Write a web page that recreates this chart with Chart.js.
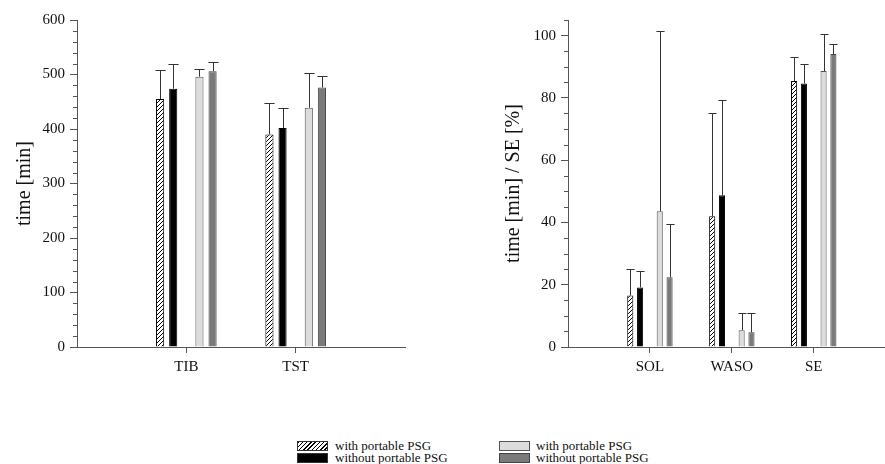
<!DOCTYPE html>
<html>
<head>
<meta charset="utf-8">
<script src="https://cdn.jsdelivr.net/npm/chart.js@4.4.0/dist/chart.umd.min.js"></script>
<style>
body { margin: 0; background: #fff; width: 885px; height: 464px; overflow: hidden; position: relative; font-family: 'Liberation Serif', serif; }
#leftWrap { position: absolute; left: 0; top: 0; width: 420px; height: 400px; }
#rightWrap { position: absolute; left: 470px; top: 0; width: 415px; height: 400px; }
.sw { position: absolute; width: 29px; height: 8px; border: 1px solid #333; box-sizing: content-box; }
.lt { position: absolute; font-size: 13px; line-height: 13px; color: #111; white-space: nowrap; }
.hatch { background: repeating-linear-gradient(135deg, #000 0 1px, #fff 1px 3px); }
</style>
</head>
<body>
<div id="leftWrap"><canvas id="leftChart"></canvas></div>
<div id="rightWrap"><canvas id="rightChart"></canvas></div>

<div class="sw hatch" style="left:297px;top:441px"></div>
<div class="lt" style="left:335px;top:439px">with portable PSG</div>
<div class="sw" style="left:297px;top:453px;background:#000"></div>
<div class="lt" style="left:335px;top:451px">without portable PSG</div>
<div class="sw" style="left:499px;top:441px;background:#dcdcdc;border-color:#555"></div>
<div class="lt" style="left:536px;top:439px">with portable PSG</div>
<div class="sw" style="left:499px;top:453px;background:#7a7a7a;border-color:#444"></div>
<div class="lt" style="left:536px;top:451px">without portable PSG</div>

<script>
// left panel: time in bed / total sleep time
const leftCats = ['TIB', 'TST'];
const leftWith1 = [455, 390];
const leftWithout1 = [474, 402];
const leftWith2 = [496, 439];
const leftWithout2 = [506, 476];
const leftErrWith1 = [53, 57];
const leftErrWithout1 = [46, 37];
const leftErrWith2 = [14, 64];
const leftErrWithout2 = [17, 22];

// right panel: SOL / WASO / SE
const rightCats = ['SOL', 'WASO', 'SE'];
const rightWith1 = [16.5, 42, 85.4];
const rightWithout1 = [19.1, 48.7, 84.6];
const rightWith2 = [43.6, 5.4, 88.6];
const rightWithout2 = [22.4, 4.7, 94.1];
const rightErrWith1 = [8.4, 33, 7.6];
const rightErrWithout1 = [5.3, 30.6, 6.3];
const rightErrWith2 = [57.8, 5.6, 12];
const rightErrWithout2 = [17.1, 6.3, 3.1];

const legendLabels = ['with portable PSG', 'without portable PSG'];

Chart.defaults.font.family = "'Liberation Serif', serif";
Chart.defaults.color = '#111';

function hatchPattern() {
    const c = document.createElement('canvas');
    c.width = 4;
    c.height = 4;
    const g = c.getContext('2d');
    g.fillStyle = '#fff';
    g.fillRect(0, 0, 4, 4);
    g.strokeStyle = '#000';
    g.lineWidth = 1;
    g.beginPath();
    g.moveTo(0, 4); g.lineTo(4, 0);
    g.moveTo(-1, 1); g.lineTo(1, -1);
    g.moveTo(3, 5); g.lineTo(5, 3);
    g.stroke();
    return g.createPattern(c, 'repeat');
}

const errorBars = {
    id: 'errorBars',
    afterDatasetsDraw(chart) {
        const ctx = chart.ctx;
        const yScale = chart.scales.y;
        ctx.save();
        ctx.strokeStyle = '#333';
        ctx.lineWidth = 1;
        chart.data.datasets.forEach((ds, i) => {
            if (!ds.errors) return;
            const meta = chart.getDatasetMeta(i);
            meta.data.forEach((bar, j) => {
                const x = Math.round(bar.x) + 0.5;
                const top = Math.round(yScale.getPixelForValue(ds.data[j].y + ds.errors[j])) + 0.5;
                const half = bar.width / 2 + 1;
                ctx.beginPath();
                ctx.moveTo(x, bar.y);
                ctx.lineTo(x, top);
                ctx.moveTo(x - half, top);
                ctx.lineTo(x + half, top);
                ctx.stroke();
            });
        });
        ctx.restore();
    }
};

const minorTicks = {
    id: 'minorTicks',
    afterDraw(chart, args, opts) {
        const y = chart.scales.y;
        const ctx = chart.ctx;
        ctx.save();
        ctx.strokeStyle = '#555';
        ctx.lineWidth = 1;
        for (let v = y.min; v <= y.max + 1e-9; v += opts.step) {
            if (Math.abs(v % opts.major) < 1e-9) continue;
            const py = Math.round(y.getPixelForValue(v)) + 0.5;
            ctx.beginPath();
            ctx.moveTo(y.right - 4, py);
            ctx.lineTo(y.right, py);
            ctx.stroke();
        }
        ctx.restore();
    }
};

function points(cats, vals) {
    return cats.map((c, i) => ({ x: i, y: vals[i] }));
}

function makeChart(el, cats, series, errors, yCfg) {
    const hatch = hatchPattern();
    return new Chart(el, {
        type: 'bar',
        data: {
            datasets: [
                {
                    label: legendLabels[0],
                    data: points(cats, series[0]),
                    errors: errors[0],
                    backgroundColor: hatch,
                    borderColor: '#000',
                    borderWidth: 1
                },
                {
                    label: legendLabels[1],
                    data: points(cats, series[1]),
                    errors: errors[1],
                    backgroundColor: '#000',
                    borderColor: '#000',
                    borderWidth: 1
                },
                {
                    label: '',
                    data: []
                },
                {
                    label: legendLabels[0],
                    data: points(cats, series[2]),
                    errors: errors[2],
                    backgroundColor: '#dcdcdc',
                    borderColor: '#555',
                    borderWidth: 1
                },
                {
                    label: legendLabels[1],
                    data: points(cats, series[3]),
                    errors: errors[3],
                    backgroundColor: '#7a7a7a',
                    borderColor: '#444',
                    borderWidth: 1
                }
            ]
        },
        options: {
            responsive: true,
            maintainAspectRatio: false,
            animation: false,
            categoryPercentage: 0.6,
            barPercentage: 0.62,
            layout: { padding: { top: 20, right: yCfg.padRight, bottom: 0, left: 0 } },
            plugins: {
                legend: { display: false },
                tooltip: { enabled: false },
                minorTicks: { step: yCfg.minor, major: yCfg.step }
            },
            scales: {
                x: {
                    type: 'linear',
                    min: -1,
                    max: yCfg.xMax,
                    offset: false,
                    afterBuildTicks: (scale) => {
                        scale.ticks = cats.map((c, i) => ({ value: i }));
                    },
                    afterFit: (scale) => { scale.height = 53; },
                    grid: { drawOnChartArea: false, offset: false, tickLength: 6, color: '#555' },
                    border: { color: '#555' },
                    ticks: {
                        callback: (v) => cats[v],
                        font: { size: 15 },
                        color: '#111',
                        padding: 5,
                        maxRotation: 0
                    }
                },
                y: {
                    min: 0,
                    max: yCfg.max,
                    afterFit: (scale) => { scale.width = yCfg.width; },
                    grid: { drawOnChartArea: false, tickLength: 7, color: '#555' },
                    border: { color: '#555' },
                    ticks: {
                        stepSize: yCfg.step,
                        includeBounds: false,
                        font: { size: 15 },
                        color: '#111',
                        padding: 5
                    },
                    title: {
                        display: true,
                        text: yCfg.title,
                        font: { size: 20 },
                        color: '#111',
                        padding: { top: yCfg.titlePad, bottom: 0 }
                    }
                }
            }
        },
        plugins: [errorBars, minorTicks]
    });
}

makeChart(document.getElementById('leftChart'), leftCats,
    [leftWith1, leftWithout1, leftWith2, leftWithout2],
    [leftErrWith1, leftErrWithout1, leftErrWith2, leftErrWithout2],
    { max: 600, step: 100, minor: 20, width: 77, xMax: 2, padRight: 15, title: 'time [min]', titlePad: 13 });

makeChart(document.getElementById('rightChart'), rightCats,
    [rightWith1, rightWithout1, rightWith2, rightWithout2],
    [rightErrWith1, rightErrWithout1, rightErrWith2, rightErrWithout2],
    { max: 105, step: 20, minor: 5, width: 98, xMax: 2.87, padRight: 0, title: 'time [min] / SE [%]', titlePad: 32 });
</script>
</body>
</html>
